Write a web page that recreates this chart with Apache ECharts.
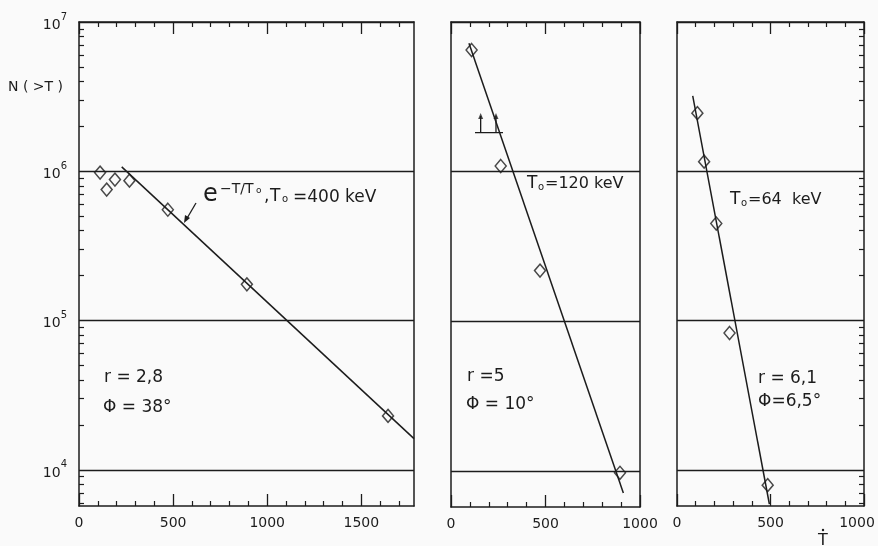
<!DOCTYPE html>
<html><head><meta charset="utf-8">
<script src="https://cdn.jsdelivr.net/npm/echarts@6/dist/echarts.min.js"></script>
<style>html,body{margin:0;padding:0;background:#fafafa}#c{width:878px;height:546px}</style>
</head><body><div id="c"></div>
<script>
// ---- data ----
const panel1T = [112, 147, 191, 268, 472, 892, 1642];
const panel1N = [980000, 754000, 880000, 866000, 553000, 175000, 23000];
const panel1FitT = [227, 1780];
const panel1FitN = [1.07e6, 16200];

const panel2T = [109, 263, 471, 894];
const panel2N = [6.5e6, 1.09e6, 218000, 9700];
const panel2FitT = [95, 912];
const panel2FitN = [7.2e6, 7100];
// lower-limit marker in panel 2
const limitBarT = [127, 275];
const limitBarN = 1.82e6;
const limitArrowT = [157, 238];
const limitArrowTopN = 2.35e6;

const panel3T = [109, 145, 210, 281, 485];
const panel3N = [2.45e6, 1.16e6, 447000, 82600, 7900];
const panel3FitT = [84, 494];
const panel3FitN = [3.2e6, 5900];

const xMaxes = [1780, 1000, 1000];
const xMajorTicks = [[0, 500, 1000, 1500], [0, 500, 1000], [0, 500, 1000]];
const xMinorTicks = [
  [100,200,300,400,600,700,800,900,1100,1200,1300,1400,1600,1700],
  [100,200,300,400,600,700,800,900],
  [100,200,300,400,600,700,800,900]
];
const yMin = 5730, yMax = 1e7;
const yDecadeLabels = [1e4, 1e5, 1e6, 1e7];
const yMinorTicks = [6000,7000,8000,9000,
  2e4,3e4,4e4,5e4,6e4,7e4,8e4,9e4,
  2e5,3e5,4e5,5e5,6e5,7e5,8e5,9e5,
  2e6,3e6,4e6,5e6,6e6,7e6,8e6,9e6];

// ---- chart ----
const INK = '#1c1c1c';
const FONT = 'DejaVu Sans';
const grids = [
  {left: 79, top: 22, width: 335, height: 484, outerBoundsMode: 'none', containLabel: false},
  {left: 451, top: 22, width: 189, height: 485, outerBoundsMode: 'none', containLabel: false},
  {left: 677, top: 22, width: 187, height: 484, outerBoundsMode: 'none', containLabel: false}
];
const line = {color: INK, width: 1.5};
const minorTick = {show: true, inside: true, length: 5, customValues: yMinorTicks, lineStyle: {color: INK, width: 1.2}};
const decadeSplit = {show: true, lineStyle: {color: INK, width: 1.3}};
const xAxes = [], yAxes = [];
grids.forEach((g, i) => {
  const base = {gridIndex: i, type: 'value', min: 0, max: xMaxes[i], splitLine: {show: false}};
  xAxes.push(Object.assign({}, base, {
    position: 'bottom',
    axisLine: {show: true, onZero: false, lineStyle: line},
    axisTick: {show: true, inside: true, length: 12, customValues: xMajorTicks[i], lineStyle: {color: INK, width: 1.3}},
    axisLabel: {show: true, customValues: xMajorTicks[i], margin: 10, color: INK, fontFamily: FONT, fontSize: 14,
      formatter: v => (i === 2 && v === 1000) ? '{r|' + v + '}' : String(v),
      rich: {r: {fontSize: 14, fontFamily: FONT, color: INK, padding: [0, 14, 0, 0]}}}
  }));
  xAxes.push(Object.assign({}, base, {
    position: 'bottom',
    axisLine: {show: false, onZero: false},
    axisTick: {show: true, inside: true, length: 5, customValues: xMinorTicks[i], lineStyle: {color: INK, width: 1.2}},
    axisLabel: {show: false}
  }));
  xAxes.push(Object.assign({}, base, {
    position: 'top',
    axisLine: {show: true, onZero: false, lineStyle: line},
    axisTick: {show: true, inside: true, length: 12, customValues: xMajorTicks[i], lineStyle: {color: INK, width: 1.3}},
    axisLabel: {show: false}
  }));
  xAxes.push(Object.assign({}, base, {
    position: 'top',
    axisLine: {show: false, onZero: false},
    axisTick: {show: true, inside: true, length: 5, customValues: xMinorTicks[i], lineStyle: {color: INK, width: 1.2}},
    axisLabel: {show: false}
  }));
  const yBase = {gridIndex: i, type: 'log', logBase: 10, min: yMin, max: yMax};
  // left axis
  yAxes.push(Object.assign({}, yBase, {
    position: 'left',
    axisLine: {show: true, onZero: false, lineStyle: line},
    splitLine: i === 0 ? {show: false} : decadeSplit,
    axisTick: i === 0 ? minorTick : {show: false, customValues: yDecadeLabels},
    axisLabel: i === 0 ? {
      show: true, customValues: yDecadeLabels, margin: 12, color: INK, fontFamily: FONT,
      formatter: v => '{b|10}{s|' + Math.round(Math.log10(v)) + '}',
      rich: {
        b: {fontSize: 14, fontFamily: FONT, color: INK, verticalAlign: 'bottom', lineHeight: 20},
        s: {fontSize: 10, fontFamily: FONT, color: INK, verticalAlign: 'top', lineHeight: 20}
      }
    } : {show: false}
  }));
  // right axis
  yAxes.push(Object.assign({}, yBase, {
    position: 'right',
    axisLine: {show: true, onZero: false, lineStyle: line},
    splitLine: i === 0 ? decadeSplit : {show: false},
    axisTick: i === 2 ? minorTick : {show: false, customValues: yDecadeLabels},
    axisLabel: {show: false}
  }));
});

const zip = (a, b) => a.map((v, k) => [v, b[k]]);
const diamond = (i, T, N) => ({
  type: 'scatter', xAxisIndex: 4 * i, yAxisIndex: 2 * i, data: zip(T, N),
  symbol: 'diamond', symbolSize: [11, 13], z: 5,
  itemStyle: {color: 'rgba(0,0,0,0)', borderColor: INK, borderWidth: 1.5}
});
const fit = (i, T, N) => ({
  type: 'line', xAxisIndex: 4 * i, yAxisIndex: 2 * i, data: zip(T, N),
  symbol: 'none', lineStyle: {color: INK, width: 1.5}, z: 4, silent: true
});

const limitData = [[limitBarT[0], limitBarN], [limitBarT[1], limitBarN], '-'];
limitArrowT.forEach(t => { limitData.push([t, limitBarN], [t, limitArrowTopN], '-'); });

const series = [
  fit(0, panel1FitT, panel1FitN), diamond(0, panel1T, panel1N),
  fit(1, panel2FitT, panel2FitN), diamond(1, panel2T, panel2N),
  fit(2, panel3FitT, panel3FitN), diamond(2, panel3T, panel3N),
  {type: 'line', xAxisIndex: 4, yAxisIndex: 2, data: limitData, connectNulls: false,
   symbol: 'none', lineStyle: {color: INK, width: 1.3}},
  {type: 'scatter', xAxisIndex: 4, yAxisIndex: 2, data: limitArrowT.map(t => [t, limitArrowTopN]),
   symbol: 'triangle', symbolSize: [5, 6], itemStyle: {color: INK}}
];

const txt = (text, x, y, size, align) => ({
  type: 'text', x: x, y: y, silent: true,
  style: {text: text, fill: INK, font: size + 'px "' + FONT + '"', align: align || 'left', verticalAlign: 'middle'}
});

const graphic = [
  txt('N ( >T )', 8, 87, 14),
  txt('T', 823, 541, 16, 'center'),
  {type: 'circle', silent: true, shape: {cx: 823, cy: 530, r: 1.2}, style: {fill: INK}},
  // panel 1 formula
  txt('e', 203, 195, 24),
  txt('\u2212T/T', 220, 189, 14),
  txt('o', 256, 191, 9),
  txt(',', 264, 197, 17),
  txt('T', 270, 196.5, 17),
  txt('o', 282, 199.5, 10),
  txt('=400 keV', 293, 197.5, 17),
  {type: 'line', silent: true, shape: {x1: 196, y1: 203, x2: 186, y2: 220}, style: {stroke: INK, lineWidth: 1.3}},
  {type: 'polygon', silent: true, shape: {points: [[184, 223], [185, 215], [190, 218]]}, style: {fill: INK}},
  txt('r = 2,8', 104, 377.5, 17),
  txt('\u03A6 = 38\u00B0', 103, 407.5, 17),
  // panel 2
  txt('T', 527, 183.5, 17),
  txt('o', 538, 187, 10),
  txt('=120 keV', 545, 183.5, 16),
  txt('r =5', 467, 376.5, 17),
  txt('\u03A6 = 10\u00B0', 466, 405, 17),
  // panel 3
  txt('T', 730, 200, 17),
  txt('o', 741, 203.5, 10),
  txt('=64  keV', 748, 200, 16),
  txt('r = 6,1', 758, 378.5, 17),
  txt('\u03A6=6,5\u00B0', 758, 402, 17)
];

const chart = echarts.init(document.getElementById('c'), null, {renderer: 'canvas'});
chart.setOption({
  backgroundColor: '#fafafa',
  animation: false,
  grid: grids,
  xAxis: xAxes,
  yAxis: yAxes,
  series: series,
  graphic: graphic
});
</script>
</body></html>
